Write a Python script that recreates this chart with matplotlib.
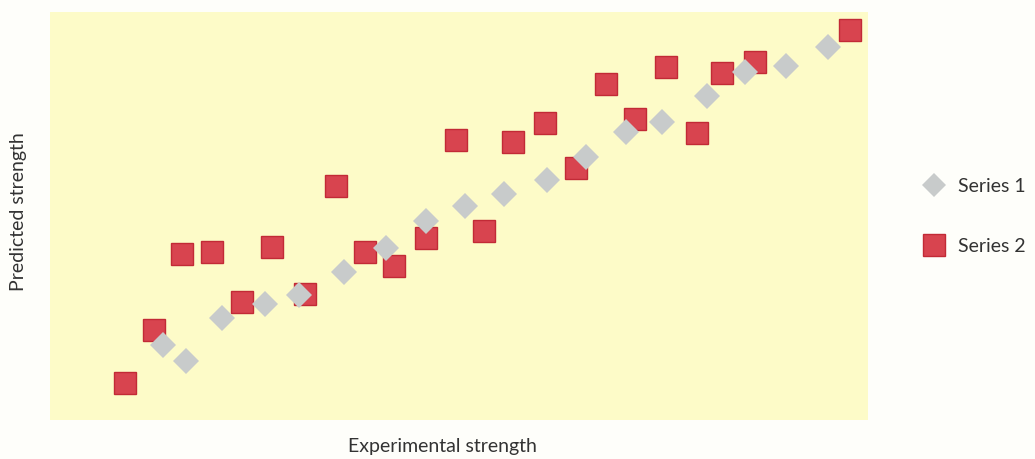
import numpy as np
import matplotlib.pyplot as plt

plt.rcParams['font.family'] = ['Lato', 'DejaVu Sans']

# Series 1 (grey diamonds)
s1_x = [1.38, 1.66, 2.10, 2.63, 3.04, 3.59, 4.11, 4.60, 5.07, 5.55, 6.08, 6.55, 7.04, 7.49, 8.04, 8.50, 9.00, 9.51]
s1_y = [1.84, 1.45, 2.50, 2.84, 3.06, 3.63, 4.22, 4.88, 5.25, 5.54, 5.88, 6.45, 7.06, 7.30, 7.94, 8.53, 8.68, 9.14]

# Series 2 (red squares)
s2_x = [0.92, 1.27, 1.61, 1.98, 2.35, 2.71, 3.12, 3.50, 3.85, 4.21, 4.60, 4.96, 5.31, 5.66, 6.05, 6.43, 6.80, 7.15, 7.53, 7.91, 8.22, 8.62, 9.78]
s2_y = [0.91, 2.21, 4.07, 4.12, 2.89, 4.24, 3.09, 5.74, 4.12, 3.77, 4.46, 6.86, 4.63, 6.81, 7.28, 6.18, 8.24, 7.38, 8.65, 7.03, 8.50, 8.77, 9.56]

fig = plt.figure(figsize=(10.35, 4.59), dpi=100, facecolor='#fefefa')
ax = fig.add_axes([0.0483, 0.085, 0.790, 0.889])
ax.set_facecolor('#fdfbc8')

ax.plot(s2_x, s2_y, 's', ms=16, color='#d8444f', mec='#c22a36', mew=1,
        label='Series 2', zorder=2)
ax.plot(s1_x, s1_y, 'D', ms=13, color='#c8cbcb', mec='#c8cbcb', mew=0,
        label='Series 1', zorder=3)

ax.set_xlim(0, 10)
ax.set_ylim(0, 10)
ax.set_xticks([])
ax.set_yticks([])
for sp in ax.spines.values():
    sp.set_visible(False)

ax.set_xlabel('Experimental strength', fontsize=14, color='#333333')
ax.set_ylabel('Predicted strength', fontsize=14, color='#333333')
ax.xaxis.set_label_coords(0.48, -0.045)
ax.yaxis.set_label_coords(-0.028, 0.51)

handles, labels = ax.get_legend_handles_labels()
fig.legend(handles[::-1], labels[::-1], loc='center left', bbox_to_anchor=(0.871, 0.529),
           frameon=False, fontsize=14, labelcolor='#333333', labelspacing=2.2,
           handlelength=1.5, handletextpad=0.5, markerscale=0.95)

fig.savefig('out.png', dpi=100, facecolor=fig.get_facecolor())
